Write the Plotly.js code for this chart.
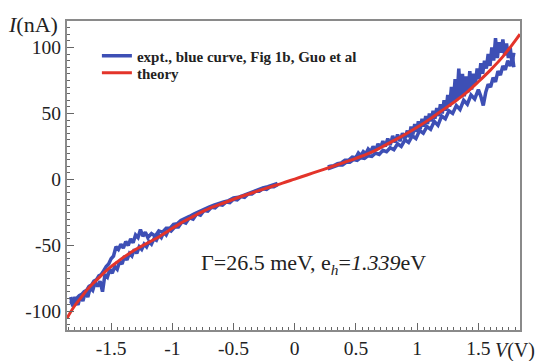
<!DOCTYPE html>
<html>
<head>
<meta charset="utf-8">
<script src="https://cdn.plot.ly/plotly-3.0.1.min.js"></script>
<style>html,body{margin:0;padding:0;background:#fff;}#chart{width:543px;height:361px;}</style>
</head>
<body>
<div id="chart"></div>
<script>
// Theory curve (red)
var theoryV = [-1.86,-1.8,-1.75,-1.7,-1.65,-1.6,-1.55,-1.5,-1.45,-1.4,-1.35,-1.3,-1.25,-1.2,-1.15,-1.1,-1.05,-1.0,-0.95,-0.9,-0.85,-0.8,-0.75,-0.7,-0.65,-0.6,-0.5,-0.4,-0.3,-0.2,-0.1,0,0.1,0.2,0.3,0.4,0.5,0.6,0.7,0.8,0.9,1.0,1.1,1.2,1.3,1.4,1.5,1.6,1.7,1.8,1.84];
var theoryI = [-105,-96,-90,-84,-79,-74.5,-70,-66,-62.5,-59,-56,-53,-50.5,-48,-45.5,-43,-40,-37,-34.2,-31.5,-29,-26.5,-24.2,-22,-20.2,-18.5,-15,-11.8,-8.7,-5.7,-2.8,0.3,3.4,6.5,9.6,12.8,16,19.5,24,29,34,39.5,45.5,52,58.5,65.5,74,83,93,105,110];

// Experimental curve, forward sweep (lower branch)
var exptFwdV = [-1.83,-1.81,-1.79,-1.77,-1.75,-1.73,-1.71,-1.69,-1.67,-1.65,-1.63,-1.61,-1.59,-1.57,-1.55,-1.53,-1.51,-1.49,-1.47,-1.45,-1.43,-1.41,-1.39,-1.37,-1.35,-1.33,-1.31,-1.29,-1.27,-1.25,-1.23,-1.21,-1.19,-1.17,-1.15,-1.13,-1.11,-1.09,-1.07,-1.05,-1.03,-1.01,-0.98,-0.95,-0.92,-0.89,-0.86,-0.83,-0.80,-0.77,-0.74,-0.71,-0.68,-0.65,-0.62,-0.59,-0.56,-0.53,-0.50,-0.47,-0.44,-0.41,-0.38,-0.35,-0.32,-0.29,-0.26,-0.23,-0.20,-0.17,-0.14,null,0.27,0.30,0.33,0.36,0.39,0.42,0.45,0.48,0.51,0.54,0.57,0.60,0.63,0.66,0.69,0.72,0.75,0.78,0.81,0.84,0.87,0.90,0.93,0.96,0.99,1.02,1.05,1.08,1.11,1.14,1.17,1.20,1.23,1.26,1.29,1.32,1.35,1.38,1.41,1.44,1.47,1.50,1.52,1.54,1.56,1.58,1.60,1.62,1.64,1.66,1.68,1.70,1.72,1.74,1.76,1.78,1.79];
var exptFwdI = [-92,-96,-91,-95,-88,-92,-85,-89,-82,-84,-78,-81,-77,-85,-72,-74,-68,-71,-66,-68,-62,-64,-58,-61,-56,-58,-53,-56,-51,-53,-49,-51,-47,-49,-45,-46,-42,-44,-40,-42,-38,-39,-36,-36,-32,-33,-29,-30,-26,-27,-23.5,-24,-21,-21.5,-19,-19.5,-17,-17.5,-15,-15.5,-13,-13.5,-11,-11,-9,-9,-7,-7.5,-5.5,-5.5,-4,null,8,9,9.5,11,11,13,13,15,14.5,16.5,16,18,17.5,20,19,22,21,24,22.5,27,25,30,28,33,31,37,35,40,38,44,41,48,46,52,50,56,53,60,57,64,61,68,63,56,66,72,70,77,74,82,79,86,83,90,86,92,85];

// Experimental curve, backward sweep (upper branch)
var exptBwdV = [1.79,1.775,1.76,1.745,1.73,1.715,1.70,1.685,1.67,1.655,1.64,1.625,1.61,1.595,1.58,1.565,1.55,1.535,1.52,1.505,1.49,1.475,1.46,1.445,1.43,1.415,1.40,1.385,1.37,1.355,1.34,1.325,1.31,1.295,1.28,1.265,1.25,1.235,1.22,1.205,1.19,1.175,1.16,1.145,1.13,1.115,1.10,1.085,1.07,1.055,1.04,1.025,1.01,0.995,0.98,0.965,0.95,0.935,0.92,0.90,0.88,0.86,0.84,0.82,0.80,0.78,0.76,0.74,0.72,0.70,0.68,0.66,0.64,0.62,0.60,0.58,0.56,0.54,0.52,0.50,0.47,0.44,0.41,0.38,0.35,0.32,0.29,0.27,null,-0.14,-0.18,-0.22,-0.26,-0.30,-0.34,-0.38,-0.42,-0.46,-0.50,-0.54,-0.58,-0.62,-0.66,-0.70,-0.74,-0.78,-0.82,-0.86,-0.90,-0.93,-0.96,-0.99,-1.02,-1.05,-1.08,-1.11,-1.14,-1.17,-1.20,-1.22,-1.24,-1.26,-1.28,-1.30,-1.32,-1.34,-1.36,-1.38,-1.40,-1.42,-1.44,-1.46,-1.48,-1.50,-1.52,-1.54,-1.56,-1.58,-1.60,-1.62,-1.64,-1.66,-1.68,-1.70,-1.72,-1.74,-1.76,-1.78,-1.80,-1.82,-1.83];
var exptBwdI = [96,88,100,92,103,94,106,96,104,92,107,90,100,86,95,84,90,80,88,76,84,72,80,68,82,66,78,63,80,62,84,60,76,58,70,55,64,52,60,50,57,48,54,46,52,44,50,42,48,40,46,38,44,36,42,34,40,32,37,31,35,29,34,28,33,26,31,25,29,24,27,22,25,21,23,19.5,21,18,20,16.5,17,14.5,14.5,12.5,12,10.5,10,9.5,null,-3,-4.5,-5.5,-6.5,-8,-9.5,-10.5,-12,-13.5,-14,-16,-17,-18,-19.5,-21,-22.5,-24.5,-26,-28,-30,-31,-33.5,-34,-37,-37,-40,-39,-43,-41,-44,-40,-43,-38,-44,-42,-48,-45,-50,-47,-52,-49,-53,-51,-58,-60,-64,-66,-69,-72,-73,-76,-77,-80,-81,-84,-85,-87,-88,-90,-90,-93,-89];

var xTickVals = [-1.5,-1,-0.5,0,0.5,1,1.5];
var xTickText = ['-1.5','-1','-0.5','0','0.5','1','1.5'];
var yTickVals = [-100,-50,0,50,100];
var yTickText = ['-100','-50','0','50','100'];

var exptV = exptFwdV.concat([null], exptBwdV);
var exptI = exptFwdI.concat([null], exptBwdI);

var serif = '"Liberation Serif", "Times New Roman", Times, serif';
var legFont = {family: serif, size: 15, color: '#222', weight: 'bold'};

var traces = [
  {x: exptV, y: exptI, type: 'scatter', mode: 'lines', name: 'expt., blue curve, Fig 1b, Guo et al',
   line: {color: '#3d4fb5', width: 3.5}, connectgaps: false, legend: 'legend'},
  {x: theoryV, y: theoryI, type: 'scatter', mode: 'lines', name: 'theory',
   line: {color: '#e3342a', width: 3, shape: 'spline'}, legend: 'legend2'}
];

var axisCommon = {
  showgrid: false, zeroline: false, showline: true, mirror: true,
  linecolor: '#8a8a8a', linewidth: 2,
  ticks: 'inside', ticklen: 7, tickwidth: 1, tickcolor: '#666',
  tickfont: {family: serif, size: 19.5, color: '#222'}
};

var layout = {
  width: 543, height: 361,
  margin: {l: 67, r: 23, t: 21, b: 31, pad: 0},
  paper_bgcolor: '#fff', plot_bgcolor: '#fff',
  font: {family: serif},
  showlegend: true,
  legend: {x: 0.066, y: 0.887, xanchor: 'left', yanchor: 'middle', bgcolor: 'rgba(255,255,255,0)',
           font: legFont, itemwidth: 30},
  legend2: {x: 0.066, y: 0.832, xanchor: 'left', yanchor: 'middle', bgcolor: 'rgba(255,255,255,0)',
           font: legFont, itemwidth: 30},
  xaxis: Object.assign({}, axisCommon, {range: [-1.86, 1.84], tickvals: xTickVals, ticktext: xTickText,
    minor: {dtick: 0.05, tick0: 0, ticks: 'inside', ticklen: 3, tickcolor: '#666', tickwidth: 1}}),
  yaxis: Object.assign({}, axisCommon, {range: [-114, 120], tickvals: yTickVals, ticktext: yTickText,
    minor: {dtick: 5, tick0: 0, ticks: 'inside', ticklen: 3, tickcolor: '#666', tickwidth: 1}}),
  annotations: [
    {xref: 'paper', yref: 'paper', x: -0.135, y: 0.99, xanchor: 'left', yanchor: 'middle', showarrow: false,
     text: '<i>I</i>(nA)', font: {family: serif, size: 22, color: '#222'}},
    {xref: 'paper', yref: 'paper', x: 0.9404, y: -0.065, xanchor: 'left', yanchor: 'middle', showarrow: false,
     text: '<i>V</i>(V)', font: {family: serif, size: 20, color: '#222'}},
    {xref: 'paper', yref: 'paper', x: 0.292, y: 0.215, xanchor: 'left', yanchor: 'middle', showarrow: false,
     text: 'Γ=26.5 meV, e<sub><i>h</i></sub>=<i>1.339</i>eV', font: {family: serif, size: 22, color: '#222'}}
  ]
};

Plotly.newPlot('chart', traces, layout, {displayModeBar: false, staticPlot: true});
</script>
</body>
</html>
